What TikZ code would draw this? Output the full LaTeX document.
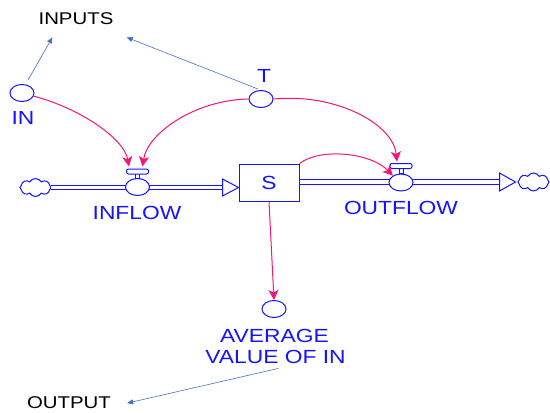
\documentclass[tikz,border=0pt]{standalone}
\usepackage{fontspec}
\setmainfont[FakeStretch=1.2]{Liberation Sans}
\usetikzlibrary{shapes.geometric,shapes.symbols,arrows.meta,calc}
\definecolor{flowblue}{RGB}{20,20,255}
\definecolor{linkpink}{RGB}{245,20,120}
\definecolor{infoblue}{RGB}{68,114,196}
\tikzset{
  aux/.style={ellipse, draw=flowblue, fill=white, line width=1pt,
    minimum width=24pt, minimum height=17pt, inner sep=0},
  stock/.style={rectangle, draw=flowblue, fill=white, line width=1pt,
    minimum width=60pt, minimum height=37pt, inner sep=0,
    text=flowblue, font=\fontsize{19}{22}\selectfont},
  lbl/.style={text=flowblue, font=\fontsize{19}{22}\selectfont, inner sep=0, anchor=base},
  plain/.style={text=black, font=\fontsize{17}{20}\selectfont, inner sep=0, anchor=base},
  pipe/.style={draw=flowblue, line width=1pt, double=white, double distance=3.2pt},
  pipehead/.style={draw=flowblue, line width=1pt, fill=white, line join=miter},
  valvebar/.style={rectangle, rounded corners=2pt, draw=flowblue, fill=white,
    line width=1pt, minimum width=22pt, minimum height=5pt, inner sep=0},
  valvestem/.style={rectangle, draw=flowblue, fill=white, line width=1pt,
    minimum width=4pt, minimum height=5pt, inner sep=0},
  link/.style={draw=linkpink, line width=1pt,
    -{Stealth[length=10pt,width=10pt,inset=2.5pt]}},
  info/.style={draw=infoblue, line width=0.6pt, -{Triangle[length=6pt,width=5pt]}},
  sink/.style={cloud, cloud puffs=8, cloud puff arc=120, aspect=1.9, draw=flowblue,
    fill=white, line width=1pt, inner sep=0, minimum width=31pt, minimum height=18pt},
}
\begin{document}
\begin{tikzpicture}[x=1pt,y=-1pt]
\useasboundingbox (0,0) rectangle (550,413);

% sources, sinks and the stock
\node[sink] (cloudL) at (35.5,187.5) {};
\node[sink] (cloudR) at (533.5,182) {};
\node[stock] (S) at (269,182.5) {S};

% inflow pipe with its open head
\draw[pipe] (cloudL.east) -- ($(S.west |- cloudL.east)+(-16,0)$) coordinate (inbase);
\draw[pipehead] ($(inbase)+(0,-8.5)$) -- (S.west |- cloudL.east) -- ($(inbase)+(0,8.5)$) -- cycle;

% outflow pipe with its open head
\draw[pipe] (S.east |- cloudR.west) -- ($(cloudR.west)+(-18,0)$) coordinate (outbase);
\draw[pipehead] ($(outbase)+(0,-9)$) -- ($(cloudR.west)+(-2,0)$) -- ($(outbase)+(0,9)$) -- cycle;

% valves
\node[aux] (vin) at (137.5,187) {};
\node[valvestem] (vinstem) at (137.5,176) {};
\node[valvebar] (vinbar) at (137.5,171.5) {};
\node[aux] (vout) at (401,182.5) {};
\node[valvestem] (voutstem) at (401,171) {};
\node[valvebar] (voutbar) at (401,166) {};

% auxiliaries
\node[aux] (IN) at (22,93) {};
\node[aux] (T) at (261,99) {};
\node[aux] (avg) at (274,309) {};

% labels
\node[plain] (inputs) at (76,24) {INPUTS};
\node[plain] (output) at (69,408) {OUTPUT};
\node[lbl] (inlbl) at (23,124.5) {IN};
\node[lbl] (tlbl) at (264,82) {T};
\node[lbl] (inflowlbl) at (137,219) {INFLOW};
\node[lbl] (outflowlbl) at (401,214) {OUTFLOW};
\node[lbl] (avg1) at (274.5,342) {AVERAGE};
\node[lbl] (avg2) at (275.5,363) {VALUE OF IN};

% causal links
\draw[link] (IN.-15) .. controls +(46,12) and +(-5,-28) .. ($(vinbar.north)+(-8.5,-2)$);
\draw[link] (T.west) .. controls +(-54,1) and +(5,-33) .. ($(vinbar.north)+(5,-2)$);
\draw[link] (T.east) .. controls +(62,-6) and +(-4,-38) .. ($(voutbar.north)+(-4,-1.5)$);
\draw[link] (S.north east) .. controls +(21,-16) and +(-22,-23) .. (vout.140);
\draw[link] (S.south) -- (avg.north);

% information arrows
\draw[info] ($(IN.north)+(6,-4)$) -- ($(inputs.south west)+(14,13)$);
\draw[info] ($(T.north)+(-3,-1)$) -- ($(inputs.south east)+(13,13)$);
\draw[info] ($(avg2.south)+(3,5)$) -- ($(output.east)+(16,1)$);
\end{tikzpicture}
\end{document}
